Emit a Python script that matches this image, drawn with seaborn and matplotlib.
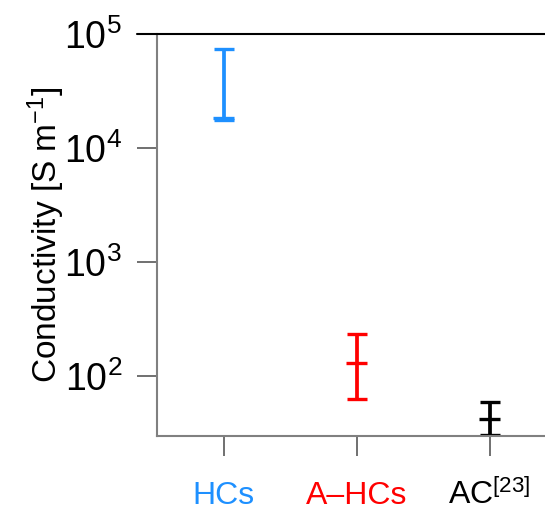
"""
Conductivity ranges of HCs, A-HCs and AC on a log axis.
"""

import numpy as np
import pandas as pd
import matplotlib.pyplot as plt
import seaborn as sns


# --- Data (S m^-1) ---
MATERIALS = ["HCs", "A–HCs", "AC"]
TICK_LABELS = ["HCs", "A–HCs", r"AC$^{[23]}$"]
SIGMA_LOW = [17600, 62.4, 30.7]
SIGMA_MID = [18600, 131, 41.9]
SIGMA_HIGH = [74300, 236, 59.1]
COLORS = ["#1E90FF", "#FF0000", "#000000"]

Y_TICKS = [1e2, 1e3, 1e4, 1e5]

DPI = 100


def main() -> None:
    sns.set_style("ticks")
    plt.rcParams["font.family"] = ["Liberation Sans", "DejaVu Sans"]
    plt.rcParams["mathtext.fontset"] = "custom"
    plt.rcParams["mathtext.rm"] = "Liberation Sans"
    plt.rcParams["mathtext.it"] = "Liberation Sans:italic"
    plt.rcParams["mathtext.bf"] = "Liberation Sans:bold"
    plt.rcParams["text.color"] = "black"
    plt.rcParams["axes.labelcolor"] = "black"

    df = pd.DataFrame({
        "material": MATERIALS,
        "pos": np.arange(1, len(MATERIALS) + 1),
        "low": SIGMA_LOW,
        "mid": SIGMA_MID,
        "high": SIGMA_HIGH,
    })

    fig = plt.figure(figsize=(5.45, 5.12), dpi=DPI)
    ax = fig.add_axes([0.2886, 0.149, 0.732, 0.784])

    for _, row in df.iterrows():
        color = COLORS[MATERIALS.index(row["material"])]
        ax.errorbar(
            row["pos"], row["mid"],
            yerr=[[row["mid"] - row["low"]], [row["high"] - row["mid"]]],
            fmt="none", ecolor=color, elinewidth=2.7,
            capsize=7.4, capthick=2.4,
        )

    sns.scatterplot(
        data=df, x="pos", y="mid", hue="material",
        palette=dict(zip(MATERIALS, COLORS)),
        marker="_", s=225, linewidth=2.4, legend=False, ax=ax,
    )

    ax.set_yscale("log")
    ax.set_ylim(30, 1e5)
    ax.set_xlim(0.5, 3.5)
    ax.set_yticks(Y_TICKS)
    ax.yaxis.set_minor_locator(plt.NullLocator())
    ax.set_xticks(df["pos"])
    ax.set_xticklabels(TICK_LABELS)

    ax.set_xlabel("")
    ax.set_ylabel(r"Conductivity [S m$^{-1}$]", fontsize=24, labelpad=-2)

    ax.tick_params(axis="y", length=14.4, width=1.4, color="#707070",
                   labelsize=27, pad=11, labelcolor="black")
    ax.tick_params(axis="x", length=14.4, width=1.4, color="#707070",
                   labelsize=23, pad=35)
    for lbl, c in zip(ax.get_xticklabels(), COLORS):
        lbl.set_color(c)
        lbl.set_va("baseline")

    # black top line runs left over the 10^5 tick
    ax.axhline(1e5, xmin=-0.05, xmax=1, color="black", linewidth=1.5,
               clip_on=False, zorder=5)

    for side in ["left", "bottom"]:
        ax.spines[side].set_color("#808080")
        ax.spines[side].set_linewidth(1.5)
    ax.spines["top"].set_visible(False)
    ax.spines["right"].set_visible(False)

    fig.savefig("out.png", dpi=DPI)
    plt.close(fig)


if __name__ == "__main__":
    main()
